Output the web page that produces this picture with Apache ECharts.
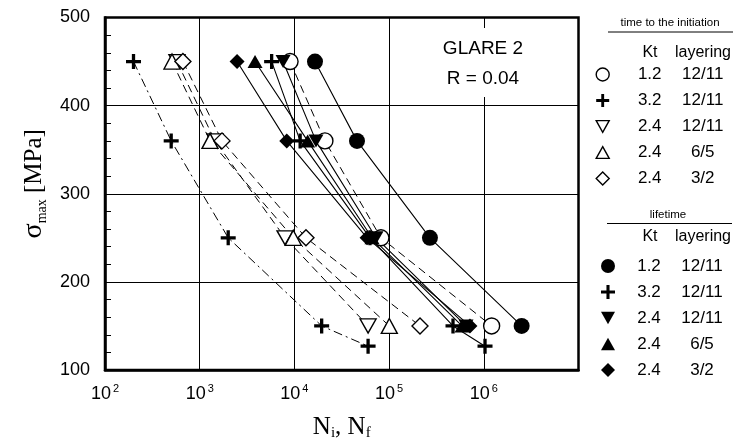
<!DOCTYPE html>
<html>
<head>
<meta charset="utf-8">
<script src="https://cdn.jsdelivr.net/npm/echarts@6/dist/echarts.min.js"></script>
<style>
html, body { margin: 0; padding: 0; background: #fff; }
#chart { width: 737px; height: 446px; }
</style>
</head>
<body>
<div id="chart"></div>
<script>
// stress levels, MPa
const sigma = [450, 360, 250, 150];
const sigmaKt32 = [450, 360, 250, 150, 127];

// time to the initiation, cycles
const initKt12 = [9000, 21000, 82000, 1210000];
const initKt32 = [200, 500, 2000, 19400, 60000];
const initKt24L12 = [575, 1450, 7960, 60000];
const initKt24L6 = [510, 1285, 9730, 100500];
const initKt24L3 = [665, 1720, 13250, 212000];

// lifetime, cycles
const lifeKt12 = [16500, 45800, 270000, 2510000];
const lifeKt32 = [5750, 11500, 62800, 473000, 1030000];
const lifeKt24L12 = [7590, 16900, 72800, 649000];
const lifeKt24L6 = [3840, 13800, 66000, 589000];
const lifeKt24L3 = [2480, 8300, 58500, 714000];

const ktValues = ['1.2', '3.2', '2.4', '2.4', '2.4'];
const layerings = ['12/11', '12/11', '12/11', '6/5', '3/2'];

const SANS = 'Liberation Sans';
const SERIF = 'Liberation Serif';
const PLUS = 'path://M3.9,0H6.1V3.9H10V6.1H6.1V10H3.9V6.1H0V3.9H3.9Z';
const TRI_UP = 'path://M5,0L10,9L0,9Z';
const TRI_DOWN = 'path://M0,0L10,0L5,9Z';

function pairs(xs, ys) {
  return xs.map((x, i) => [x, ys[i]]);
}

const initData = [
  pairs(initKt12, sigma),
  pairs(initKt32, sigmaKt32),
  pairs(initKt24L12, sigma),
  pairs(initKt24L6, sigma),
  pairs(initKt24L3, sigma)
];
const lifeData = [
  pairs(lifeKt12, sigma),
  pairs(lifeKt32, sigmaKt32),
  pairs(lifeKt24L12, sigma),
  pairs(lifeKt24L6, sigma),
  pairs(lifeKt24L3, sigma)
];

const symbols = ['circle', PLUS, TRI_DOWN, TRI_UP, 'diamond'];
const initSizes = [16, 15, [16, 14], [16, 15], 16];
const lifeSizes = [16, 15, [15, 13], [15, 13], 15];

const openStyle = { color: '#fff', borderColor: '#000', borderWidth: 1.4, opacity: 1 };
const fillStyle = { color: '#000', borderWidth: 0, opacity: 1 };

let series = [];
initData.forEach((d, i) => {
  series.push({
    type: 'line', name: 'iline' + i, data: d, symbol: 'none', silent: true,
    lineStyle: { color: '#000', width: 1, type: i === 1 ? [9, 4, 2, 4] : [8, 5] }
  });
});
lifeData.forEach((d, i) => {
  series.push({
    type: 'line', name: 'lline' + i, data: d, symbol: 'none', silent: true,
    lineStyle: { color: '#000', width: 1.1, type: 'solid' }
  });
});
initData.forEach((d, i) => {
  series.push({
    type: 'scatter', name: 'i' + i, data: d, symbol: symbols[i], symbolSize: initSizes[i],
    itemStyle: i === 1 ? fillStyle : openStyle, z: 3
  });
});
lifeData.forEach((d, i) => {
  series.push({
    type: 'scatter', name: 'l' + i, data: d, symbol: symbols[i], symbolSize: lifeSizes[i],
    itemStyle: fillStyle, z: 4
  });
});

function legendText(name) {
  const i = +name.slice(1);
  return '{k|' + ktValues[i] + '}{l|' + layerings[i] + '}';
}

function legendBlock(prefix, left, top, size, pad, open) {
  return {
    orient: 'vertical', left: left, top: top, padding: 0,
    itemWidth: size, itemHeight: size, itemGap: 9, selectedMode: false,
    data: symbols.map((s, i) => ({
      name: prefix + i,
      icon: s,
      itemStyle: (open && i !== 1) ? openStyle : fillStyle
    })),
    formatter: legendText,
    textStyle: {
      color: '#000', fontFamily: SANS, fontSize: 17,
      rich: {
        k: { width: 40, align: 'center', padding: [0, 0, 0, pad], fontFamily: SANS, fontSize: 17, lineHeight: 13 },
        l: { width: 66, align: 'center', fontFamily: SANS, fontSize: 17, lineHeight: 13 }
      }
    }
  };
}

const chart = echarts.init(document.getElementById('chart'));
chart.setOption({
  animation: false,
  grid: {
    left: 105, right: 158.5, top: 17.5, bottom: 74,
    show: true, borderColor: '#000', borderWidth: 2.5
  },
  xAxis: {
    type: 'log', logBase: 10, min: 100, max: 10000000,
    axisLine: { show: true, lineStyle: { color: '#000', width: 2.5 } },
    axisTick: { show: true, inside: true, length: 6, lineStyle: { color: '#000' } },
    splitLine: { show: true, lineStyle: { color: '#000', width: 1 } },
    axisLabel: {
      margin: 13,
      formatter: function (v) {
        const e = Math.round(Math.log10(v));
        if (e > 6) return '';
        return '{b|10}{s|' + e + '}';
      },
      rich: {
        b: { fontFamily: SANS, fontSize: 18, color: '#000', lineHeight: 22 },
        s: { fontFamily: SANS, fontSize: 11, color: '#000', lineHeight: 16, verticalAlign: 'top', padding: [0, 0, 0, 2] }
      }
    },
    name: '{n|N}{s|i}{n|, N}{s|f}',
    nameLocation: 'middle', nameGap: 43,
    nameTextStyle: {
      rich: {
        n: { fontFamily: SERIF, fontSize: 25, color: '#000', lineHeight: 28 },
        s: { fontFamily: SERIF, fontSize: 15, color: '#000', lineHeight: 15, verticalAlign: 'bottom' }
      }
    }
  },
  yAxis: {
    type: 'value', min: 100, max: 500, interval: 100,
    axisLine: { show: true, lineStyle: { color: '#000', width: 2.5 } },
    axisTick: { show: true, inside: true, length: 6, lineStyle: { color: '#000' } },
    minorTick: { show: true, splitNumber: 5, length: 6, lineStyle: { color: '#000', width: 1 } },
    splitLine: { show: true, lineStyle: { color: '#000', width: 1 } },
    axisLabel: { color: '#000', fontFamily: SANS, fontSize: 18, margin: 15 },
    name: '{g|σ}{m|max}{u| [MPa]}',
    nameLocation: 'middle', nameGap: 55,
    nameTextStyle: {
      padding: [0, 0, 0, 20],
      rich: {
        g: { fontFamily: SERIF, fontSize: 28, color: '#000', lineHeight: 30 },
        m: { fontFamily: SERIF, fontSize: 14, color: '#000', lineHeight: 14, verticalAlign: 'bottom' },
        u: { fontFamily: SERIF, fontSize: 25, color: '#000', lineHeight: 30 }
      }
    }
  },
  legend: [
    legendBlock('i', 595.5, 66, 13, 15.5, true),
    legendBlock('l', 601, 257.5, 14, 9, false)
  ],
  graphic: [
    { type: 'rect', z: 100, shape: { x: 398, y: 28, width: 172, height: 69 }, style: { fill: '#fff' } },
    { type: 'text', z: 101, x: 483, y: 49, style: { text: 'GLARE 2', fill: '#000', fontFamily: SANS, fontSize: 19, textAlign: 'center', textVerticalAlign: 'middle' } },
    { type: 'text', z: 101, x: 483, y: 79, style: { text: 'R = 0.04', fill: '#000', fontFamily: SANS, fontSize: 19, textAlign: 'center', textVerticalAlign: 'middle' } },
    { type: 'text', z: 101, x: 670, y: 23, style: { text: 'time to the initiation', fill: '#000', fontFamily: SANS, fontSize: 11.5, textAlign: 'center', textVerticalAlign: 'middle' } },
    { type: 'line', z: 101, shape: { x1: 608, y1: 32, x2: 733, y2: 32 }, style: { stroke: '#000', lineWidth: 1 } },
    { type: 'text', z: 101, x: 650, y: 53, style: { text: 'Kt', fill: '#000', fontFamily: SANS, fontSize: 16, textAlign: 'center', textVerticalAlign: 'middle' } },
    { type: 'text', z: 101, x: 703, y: 53, style: { text: 'layering', fill: '#000', fontFamily: SANS, fontSize: 16, textAlign: 'center', textVerticalAlign: 'middle' } },
    { type: 'text', z: 101, x: 668, y: 215, style: { text: 'lifetime', fill: '#000', fontFamily: SANS, fontSize: 11.5, textAlign: 'center', textVerticalAlign: 'middle' } },
    { type: 'line', z: 101, shape: { x1: 607, y1: 223.5, x2: 732, y2: 223.5 }, style: { stroke: '#000', lineWidth: 1 } },
    { type: 'text', z: 101, x: 650, y: 237, style: { text: 'Kt', fill: '#000', fontFamily: SANS, fontSize: 16, textAlign: 'center', textVerticalAlign: 'middle' } },
    { type: 'text', z: 101, x: 703, y: 237, style: { text: 'layering', fill: '#000', fontFamily: SANS, fontSize: 16, textAlign: 'center', textVerticalAlign: 'middle' } }
  ],
  series: series
});
</script>
</body>
</html>
